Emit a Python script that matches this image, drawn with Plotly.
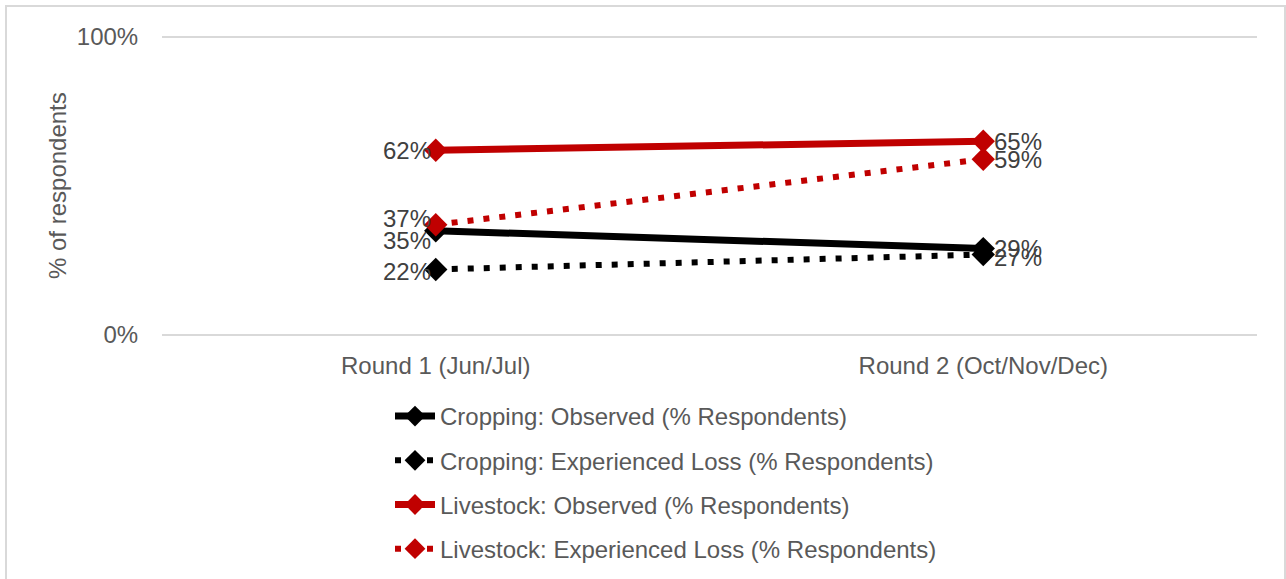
import plotly.graph_objects as go

categories = ["Round 1 (Jun/Jul)", "Round 2 (Oct/Nov/Dec)"]
crop_observed = [35, 29]
crop_loss = [22, 27]
live_observed = [62, 65]
live_loss = [37, 59]

names = [
    "Cropping: Observed (% Respondents)",
    "Cropping: Experienced Loss (% Respondents)",
    "Livestock: Observed (% Respondents)",
    "Livestock: Experienced Loss (% Respondents)",
]
values = [crop_observed, crop_loss, live_observed, live_loss]
colors = ["#000000", "#000000", "#C00000", "#C00000"]
dashes = ["solid", "6px,10px", "solid", "6px,10px"]
y_title = "% of respondents"
# label vertical nudges (px) per series, per category
label_yshift = [[-10, 0], [-2, -3], [0, 0], [6, 0]]

W, H = 1286, 579
L, R, T, B = 162, 29, 34, 241
PAD = 1.0  # y-range padding so edge gridlines are drawn

fig = go.Figure()
annotations = []
for i in range(4):
    fig.add_trace(go.Scatter(
        x=categories, y=values[i], name=names[i], mode="lines+markers",
        line=dict(color=colors[i], width=7 if dashes[i] == "solid" else 6, dash=dashes[i]),
        marker=dict(symbol="diamond", size=18, color=colors[i]),
        legendgroup=f"g{i}",
        cliponaxis=False,
    ))
    for j, cat in enumerate(categories):
        annotations.append(dict(
            x=cat, y=values[i][j], xref="x", yref="y",
            text=f"{values[i][j]}%", showarrow=False,
            xanchor="right" if j == 0 else "left", yanchor="middle",
            xshift=-3 if j == 0 else 9, yshift=label_yshift[i][j],
            font=dict(size=24, color="#404040"),
        ))

pw = W - L - R
ph = H - T - B
annotations.append(dict(
    text=y_title, xref="paper", yref="paper", x=(57 - L) / pw, y=0.5,
    xanchor="center", yanchor="middle", textangle=-90, showarrow=False,
    font=dict(size=24, color="#595959"),
))

fig.update_layout(
    width=W, height=H,
    margin=dict(l=L, r=R, t=T, b=B, pad=0, autoexpand=False),
    paper_bgcolor="white", plot_bgcolor="white",
    font=dict(family="Liberation Sans, Arial, sans-serif", color="#595959", size=24),
    showlegend=True,
    annotations=annotations,
    legend=dict(
        xref="container", yref="container",
        x=390 / W, y=1 - 394 / H, xanchor="left", yanchor="top",
        orientation="v", traceorder="grouped", tracegroupgap=10,
        font=dict(size=24, color="#595959"), bgcolor="rgba(0,0,0,0)",
        itemwidth=40,
    ),
    xaxis=dict(
        type="category", range=[-0.5, 1.5], showgrid=False, zeroline=False,
        showline=False, ticks="", tickfont=dict(size=24, color="#595959"),
        ticklabelstandoff=11,
    ),
    yaxis=dict(
        range=[-PAD, 100 + PAD], tickvals=[0, 100], ticktext=["0%", "100%"],
        showgrid=True, gridcolor="#D9D9D9", gridwidth=2, zeroline=False,
        showline=False, ticks="outside", ticklen=18, tickcolor="rgba(0,0,0,0)",
        tickfont=dict(size=24, color="#595959"),
    ),
    shapes=[dict(
        type="rect", xref="paper", yref="paper",
        x0=(6 - L) / pw, x1=(1285 - L) / pw,
        y0=-(H - T - ph + 10) / ph, y1=1 + (T - 6) / ph,
        line=dict(color="#D9D9D9", width=2), fillcolor="rgba(0,0,0,0)", layer="above",
    )],
)

fig.write_html("out.html", post_script="document.body.style.margin='0';",
               config={"displayModeBar": False})
